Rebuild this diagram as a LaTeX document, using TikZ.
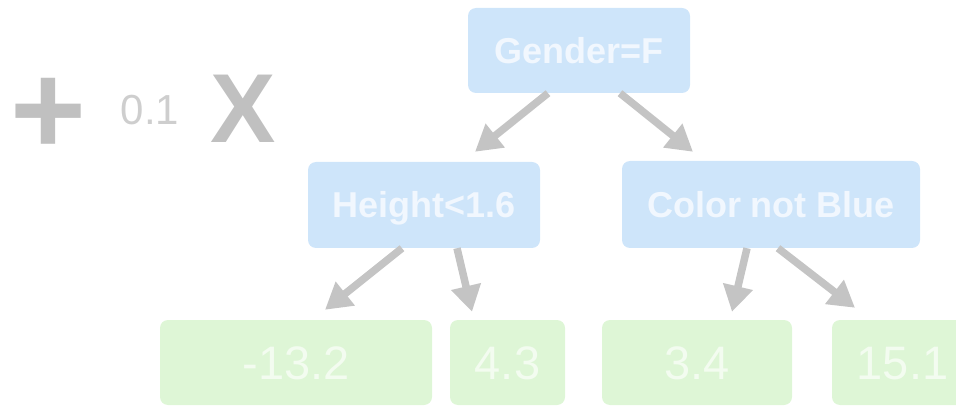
\documentclass[tikz,border=0pt]{standalone}
\usepackage{fontspec}
\setmainfont{Liberation Sans}
\usepackage{tikz}
\usetikzlibrary{arrows.meta,positioning}

\definecolor{nodeblue}{RGB}{206,229,250}
\definecolor{nodetext}{RGB}{241,247,254}
\definecolor{leafgreen}{RGB}{222,246,214}
\definecolor{leaftext}{RGB}{243,252,240}
\definecolor{arrowgray}{RGB}{196,196,196}
\definecolor{signgray}{RGB}{192,192,192}
\definecolor{weightgray}{RGB}{206,206,206}

\begin{document}
\begin{tikzpicture}[x=1pt, y=-1pt,
  splitbox/.style={rounded corners=8pt, fill=nodeblue, text=nodetext, inner sep=0pt, font=\fontsize{36}{40}\selectfont\bfseries, text height=26pt, text depth=0pt},
  leafbox/.style={rounded corners=8pt, fill=leafgreen, text=leaftext, inner sep=0pt, minimum height=85pt, font=\fontsize{47}{50}\selectfont, text height=34pt, text depth=0pt},
  link/.style={draw=arrowgray, line width=7.5pt, -{Triangle[length=26pt, width=29pt]}},
]
\useasboundingbox (0,0) rectangle (956,406);
\clip (0,0) rectangle (956,406);

% ===================== Weight in front of the tree =====================
\node[anchor=base, text=signgray, font=\fontsize{130}{130}\selectfont\bfseries] (plus) at (48,155) {+};
\node[anchor=base, text=weightgray, font=\fontsize{42}{42}\selectfont] (weight) at (150,125) {0.1};
\node[anchor=base, text=signgray, font=\fontsize{98}{98}\selectfont\bfseries] (times) at (243.5,143) {X};

% ===================== Split nodes =====================
\node[splitbox, minimum width=222pt, minimum height=85pt] (gender) at (579,50.5) {Gender=F};
\node[splitbox, minimum width=232pt, minimum height=86pt] (height) at (424,205) {Height<1.6};
\node[splitbox, minimum width=298pt, minimum height=87pt] (color) at (771,204.5) {Color not Blue};

% ===================== Leaf values =====================
\node[leafbox, minimum width=272pt] (leafA) at (296,362.5) {-13.2};
\node[leafbox, minimum width=115pt] (leafB) at (507.5,362.5) {4.3};
\node[leafbox, minimum width=190pt] (leafC) at (697,362.5) {3.4};
\node[leafbox, minimum width=141pt] (leafD) at (902.5,362.5) {15.1};

% ===================== Branches =====================
\draw[link] ([xshift=-31pt]gender.south) -- ([xshift=51pt, yshift=10pt]height.north);
\draw[link] ([xshift=41pt]gender.south) -- ([xshift=-78pt, yshift=9pt]color.north);
\draw[link] ([xshift=-22pt]height.south) -- ([xshift=29pt, yshift=10pt]leafA.north);
\draw[link] ([xshift=33pt]height.south) -- ([xshift=-35.5pt, yshift=8pt]leafB.north);
\draw[link] ([xshift=-24pt]color.south) -- ([xshift=35pt, yshift=8pt]leafC.north);
\draw[link] ([xshift=7pt]color.south) -- ([xshift=-47.5pt, yshift=12pt]leafD.north);

\end{tikzpicture}
\end{document}
